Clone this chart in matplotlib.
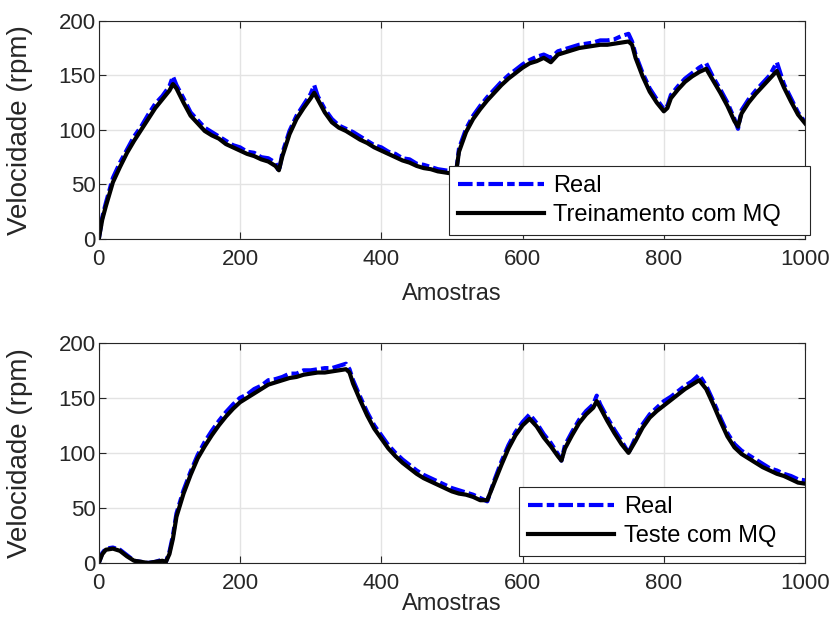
import matplotlib
matplotlib.use("agg")
import matplotlib.pyplot as plt

# amostras / velocidades (treinamento)
top_x = [0, 5, 10, 20, 30, 40, 50, 60, 70, 80, 90, 100, 105, 110, 120, 130,
         140, 150, 160, 170, 180, 190, 200, 210, 220, 230, 240, 250, 255, 260,
         270, 280, 290, 300, 305, 310, 320, 330, 340, 350, 360, 370, 380, 390,
         400, 410, 420, 430, 440, 450, 460, 470, 480, 490, 500, 505, 510, 520,
         530, 540, 550, 560, 570, 580, 590, 600, 610, 620, 630, 640, 650, 660,
         670, 680, 690, 700, 710, 720, 730, 740, 750, 755, 760, 770, 780, 790,
         800, 805, 810, 820, 830, 840, 850, 860, 870, 880, 890, 900, 905, 910,
         920, 930, 940, 950, 960, 970, 980, 990, 1000]
top_real = [0, 20, 33, 56, 70, 82, 94, 103, 114, 124, 131, 140, 149, 141, 129, 116,
            109, 102, 98, 94, 90, 86, 84, 80, 79, 75, 74, 70, 62, 79,
            99, 113, 123, 133, 141, 131, 119, 110, 104, 101, 98, 94, 90, 86,
            84, 80, 78, 74, 73, 69, 68, 66, 64, 63, 62, 56, 83, 101,
            113, 122, 130, 137, 144, 150, 155, 160, 164, 167, 169, 166, 172, 174,
            176, 178, 179, 180, 182, 182, 183, 186, 188, 181, 169, 152, 138, 128,
            119, 122, 132, 140, 147, 152, 157, 161, 148, 137, 125, 110, 101, 118,
            128, 136, 143, 150, 162, 142, 129, 116, 107]
top_mq = [0, 18, 30, 52, 66, 79, 90, 100, 110, 120, 128, 136, 142, 138, 125, 113,
          106, 99, 95, 92, 87, 84, 81, 78, 76, 73, 71, 67, 63, 76,
          96, 110, 120, 129, 134, 128, 116, 107, 102, 99, 95, 91, 88, 84,
          81, 78, 75, 72, 70, 67, 65, 64, 62, 61, 60, 57, 80, 98,
          110, 119, 127, 134, 141, 147, 152, 157, 161, 163, 166, 162, 169, 171,
          173, 175, 176, 177, 178, 178, 179, 180, 181, 178, 166, 149, 135, 125,
          117, 120, 129, 137, 144, 149, 153, 156, 145, 134, 122, 108, 103, 115,
          125, 133, 140, 147, 154, 139, 126, 114, 106]

# teste
bot_x = [0, 5, 10, 20, 30, 40, 50, 60, 70, 80, 90, 95, 100, 105, 110, 120,
         130, 140, 150, 160, 170, 180, 190, 200, 210, 220, 230, 240, 250, 260,
         270, 280, 290, 300, 310, 320, 330, 340, 350, 355, 360, 370, 380, 390,
         400, 410, 420, 430, 440, 450, 460, 470, 480, 490, 500, 510, 520, 530,
         540, 550, 560, 570, 580, 590, 600, 610, 620, 630, 640, 650, 655, 660,
         670, 680, 690, 700, 705, 710, 720, 730, 740, 750, 760, 770, 780, 790,
         800, 810, 820, 830, 840, 850, 860, 870, 880, 890, 900, 910, 920, 930,
         940, 950, 960, 970, 980, 990, 1000]
bot_real = [0, 9, 13, 14, 12, 7, 2, 1, 0, 1, 3, 1, 10, 25, 45, 66,
            83, 98, 110, 120, 129, 137, 144, 150, 153, 158, 161, 166, 167, 169,
            172, 172, 175, 175, 176, 177, 177, 179, 181, 176, 166, 151, 137, 125,
            116, 107, 100, 94, 89, 84, 80, 77, 74, 71, 68, 66, 64, 62,
            59, 56, 75, 92, 107, 119, 128, 135, 127, 117, 109, 99, 93, 107,
            119, 130, 138, 144, 152, 144, 132, 121, 111, 100, 114, 126, 135, 141,
            147, 151, 156, 161, 165, 171, 161, 147, 132, 118, 108, 102, 98, 94,
            90, 86, 84, 81, 79, 76, 75]
bot_mq = [0, 8, 12, 13, 11, 6, 2, 1, 0, 1, 2, 1, 8, 22, 42, 63,
          80, 95, 106, 116, 125, 133, 140, 146, 150, 154, 158, 162, 164, 166,
          168, 169, 171, 172, 173, 173, 174, 175, 176, 173, 163, 148, 134, 122,
          113, 104, 97, 91, 86, 81, 77, 74, 71, 68, 65, 63, 62, 60,
          57, 57, 73, 89, 104, 116, 125, 131, 124, 114, 106, 97, 93, 104,
          116, 127, 135, 141, 147, 141, 129, 118, 108, 100, 111, 123, 132, 138,
          143, 148, 153, 158, 162, 166, 158, 144, 129, 115, 105, 99, 95, 91,
          87, 84, 81, 79, 76, 73, 72]

plt.rcParams['font.family'] = ['Liberation Sans', 'DejaVu Sans']
plt.rcParams['font.size'] = 16
TXT = '#262626'


def plot_panel(ax, x, real, mq, mq_label, legend_anchor, xlabel_y):
    ax.plot(x, real, color='#0000ff', lw=3, dashes=(3.5, 1, 1.8, 1), label='Real')
    ax.plot(x, mq, color='black', lw=3, label=mq_label)
    ax.set_xlim(0, 1000)
    ax.set_ylim(0, 200)
    ax.set_xticks([0, 200, 400, 600, 800, 1000])
    ax.set_yticks([0, 50, 100, 150, 200])
    ax.grid(True, color='#e3e3e3', lw=1)
    ax.set_axisbelow(True)
    ax.tick_params(direction='in', top=True, right=True, length=5,
                   width=0.8, color=TXT, labelsize=16, labelcolor=TXT)
    ax.tick_params(axis='x', pad=7)
    ax.tick_params(axis='y', pad=2)
    for s in ax.spines.values():
        s.set_color(TXT)
        s.set_linewidth(0.8)
    ax.set_xlabel('Amostras', fontsize=17, color=TXT)
    ax.xaxis.set_label_coords(0.5, xlabel_y)
    ax.set_ylabel('Velocidade (rpm)', fontsize=20, color=TXT)
    ax.yaxis.set_label_coords(-0.093, 0.5)
    leg = ax.legend(loc='lower right', bbox_to_anchor=legend_anchor,
                    fancybox=False, framealpha=1, edgecolor=TXT,
                    fontsize=17, handlelength=3.64, borderpad=0.38,
                    labelspacing=0.3, handletextpad=0.42, borderaxespad=0)
    leg.get_frame().set_linewidth(0.8)


fig = plt.figure(figsize=(8.3, 6.29), dpi=100)
ax1 = fig.add_axes([0.119, 0.620, 0.851, 0.347])
ax2 = fig.add_axes([0.119, 0.105, 0.851, 0.350])

plot_panel(ax1, top_x, top_real, top_mq, 'Treinamento com MQ   ', (1.007, 0.018), -0.2)
plot_panel(ax2, bot_x, bot_real, bot_mq, 'Teste com MQ   ', (1.0, 0.032), -0.137)

fig.savefig('out.png', dpi=100)
